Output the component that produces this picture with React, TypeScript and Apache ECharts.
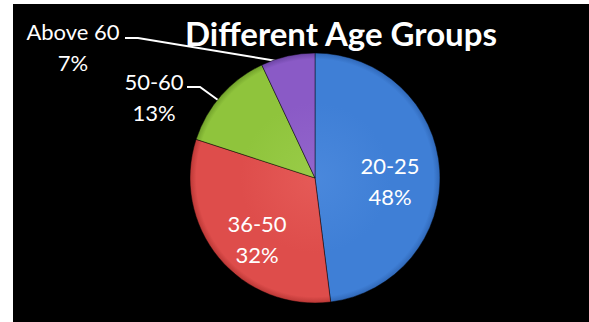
import React, { useEffect, useRef } from "react";
import * as echarts from "echarts";

const categories = ["20-25", "36-50", "50-60", "Above 60"];
const values = [48, 32, 13, 7];
const titleText = "Different Age Groups";

const baseColors = ["#3f7fd6", "#de4d4b", "#8fc43c", "#8a5ac6"];
const lightColors = ["#4a88dc", "#e55a57", "#99cc48", "#9366cc"];
const edgeColors = ["#3068b8", "#bb3836", "#70a02a", "#6c44a4"];

// label placement (chart pixel coords), not data
const labelCenters = [
  [377, 177],
  [244, 235],
  [141, 93],
  [60, 43],
];
const labelLineTails: (number[][] | null)[] = [
  null,
  null,
  [
    [187, 83],
    [174, 83],
  ],
  [
    [125, 34],
    [112, 34],
  ],
];
const lineStarts = [null, null, [205, 96], [270, 58]];

const CX = 302;
const CY = 174;
const R = 125;
const FONT = "Lato, 'Open Sans', sans-serif";

export default function App() {
  const ref = useRef<HTMLDivElement>(null);
  useEffect(() => {
    if (!ref.current) return;
    const chart = echarts.init(ref.current, undefined, { renderer: "svg" });
    const data = categories.map((name, i) => {
      const outside = labelLineTails[i] !== null;
      return {
        name,
        value: values[i],
        itemStyle: {
          color: {
            type: "radial",
            x: CX,
            y: CY,
            r: R,
            global: true,
            colorStops: [
              { offset: 0, color: lightColors[i] },
              { offset: 0.6, color: baseColors[i] },
              { offset: 0.95, color: baseColors[i] },
              { offset: 1, color: edgeColors[i] },
            ],
          },
        },
        label: { position: outside ? "outside" : "inside" },
        labelLine: { show: outside },
      };
    });
    chart.setOption({
      animation: false,
      backgroundColor: "#000000",
      graphic: [
        {
          type: "text",
          x: 328,
          y: 29,
          style: {
            text: titleText,
            fill: "#ffffff",
            font: `bold 33px ${FONT}`,
            align: "center",
            verticalAlign: "middle",
          },
        },
      ],
      series: [
        {
          type: "pie",
          center: [CX, CY],
          radius: R,
          startAngle: 90,
          clockwise: true,
          percentPrecision: 0,
          data,
          itemStyle: { borderColor: "rgba(0,0,0,0.45)", borderWidth: 1 },
          label: {
            show: true,
            formatter: "{b}\n{d}%",
            color: "#ffffff",
            fontFamily: FONT,
            fontSize: 22,
            lineHeight: 31,
            align: "center",
          },
          labelLine: {
            show: true,
            lineStyle: { color: "#ffffff", width: 2 },
          },
          labelLayout: (params: any) => {
            const i = params.dataIndex;
            const c = labelCenters[i];
            const res: any = {
              x: c[0],
              y: c[1],
              align: "center",
              verticalAlign: "middle",
            };
            const tail = labelLineTails[i];
            if (tail) {
              const start = lineStarts[i] as number[];
              res.labelLinePoints = [start, tail[0], tail[1]];
            }
            return res;
          },
        },
      ],
    });
    return () => chart.dispose();
  }, []);
  return (
    <div
      style={{
        position: "absolute",
        left: 0,
        top: 0,
        width: 589,
        height: 322,
        background: "#ffffff",
      }}
    >
      <div
        ref={ref}
        style={{ position: "absolute", left: 13, top: 4, width: 576, height: 318 }}
      />
    </div>
  );
}
